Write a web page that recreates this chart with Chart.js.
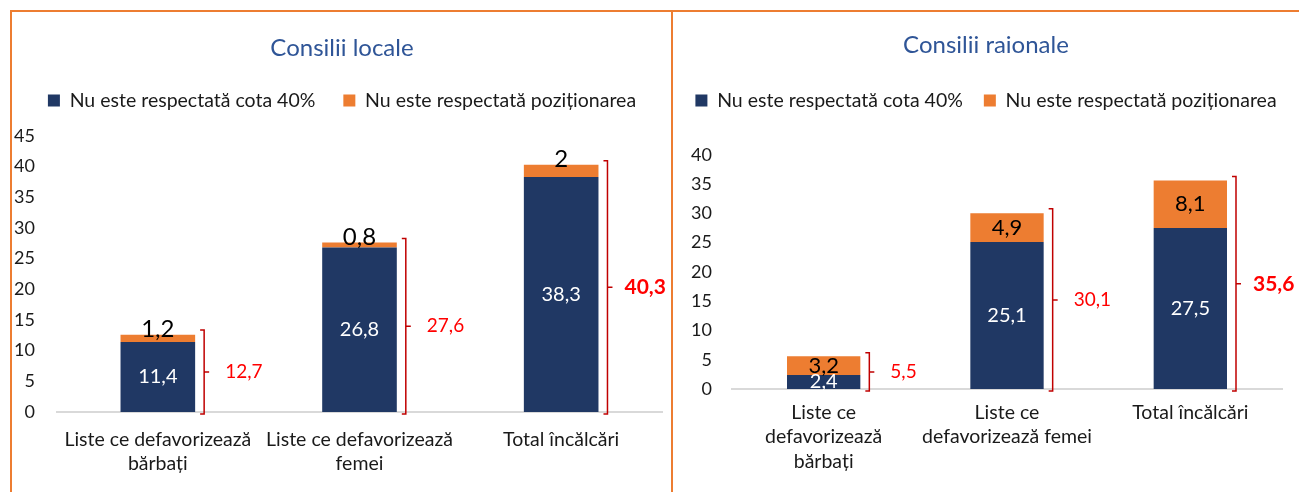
<!DOCTYPE html>
<html lang="ro">
<head>
<meta charset="utf-8">
<title>Consilii locale / Consilii raionale</title>
<script src="https://cdn.jsdelivr.net/npm/chart.js@4.4.1/dist/chart.umd.min.js"></script>
<style>
  body { margin: 0; width: 1299px; height: 492px; overflow: hidden; background: #fff; position: relative; font-family: Lato, sans-serif; }
  .frameTop { position: absolute; left: 10px; top: 10px; width: 1289px; height: 2px; background: #ED7D31; z-index: 2; }
  .frameLeft { position: absolute; left: 10px; top: 10px; width: 2px; height: 482px; background: #ED7D31; z-index: 2; }
  .frameMid { position: absolute; left: 671px; top: 10px; width: 2px; height: 482px; background: #ED7D31; z-index: 2; }
  canvas { position: absolute; top: 12px; }
  #chartLeft { left: 12px; }
  #chartRight { left: 673px; }
</style>
</head>
<body>
<div class="frameTop"></div>
<div class="frameLeft"></div>
<div class="frameMid"></div>
<canvas id="chartLeft" width="660" height="480"></canvas>
<canvas id="chartRight" width="626" height="480"></canvas>

<script>
// data start
const seriesNames = ['Nu este respectată cota 40%', 'Nu este respectată poziționarea'];

const localCategories = [['Liste ce defavorizează', 'bărbați'], ['Liste ce defavorizează', 'femei'], 'Total încălcări'];
const localQuota = [11.4, 26.8, 38.3];
const localPosition = [1.2, 0.8, 2];
const localTotals = [12.7, 27.6, 40.3];

const raionCategories = [['Liste ce', 'defavorizează', 'bărbați'], ['Liste ce', 'defavorizează femei'], 'Total încălcări'];
const raionQuota = [2.4, 25.1, 27.5];
const raionPosition = [3.2, 4.9, 8.1];
const raionTotals = [5.5, 30.1, 35.6];
// data close

const BLUE = '#203864';
const ORANGE = '#ED7D31';
const FONT = 'Lato';

function fmt(v) {
  return String(v).replace('.', ',');
}

// value labels + red brackets
function labelPlugin(totals, orangeOnTop, orangeSize) {
  return {
    id: 'barLabels',
    afterDatasetsDraw(chart) {
      const ctx = chart.ctx;
      const yScale = chart.scales.y;
      const zero = yScale.getPixelForValue(0);
      const blueBars = chart.getDatasetMeta(0).data;
      const orangeBars = chart.getDatasetMeta(1).data;
      const blueVals = chart.data.datasets[0].data;
      const orangeVals = chart.data.datasets[1].data;

      ctx.save();
      ctx.textBaseline = 'middle';
      blueBars.forEach((bar, i) => {
        ctx.textAlign = 'center';
        ctx.font = '20px ' + FONT;
        ctx.fillStyle = '#fff';
        ctx.fillText(fmt(blueVals[i]), bar.x, (bar.y + bar.base) / 2);

        const ob = orangeBars[i];
        ctx.font = orangeSize + 'px ' + FONT;
        ctx.fillStyle = '#000';
        const oy = orangeOnTop ? ob.y - 5 : (ob.y + ob.base) / 2;
        ctx.fillText(fmt(orangeVals[i]), ob.x, oy);

        // bracket
        const bx = bar.x + bar.width / 2 + 9;
        const top = yScale.getPixelForValue(totals[i]) - 4;
        const bottom = zero + 2;
        const mid = (top + bottom) / 2;
        ctx.strokeStyle = '#C00000';
        ctx.lineWidth = 1.5;
        ctx.beginPath();
        ctx.moveTo(bx - 4, top);
        ctx.lineTo(bx, top);
        ctx.lineTo(bx, bottom);
        ctx.lineTo(bx - 4, bottom);
        ctx.moveTo(bx, mid);
        ctx.lineTo(bx + 5, mid);
        ctx.stroke();

        const last = i === blueBars.length - 1;
        ctx.textAlign = 'left';
        ctx.font = last ? 'bold 21px ' + FONT : '19px ' + FONT;
        ctx.fillStyle = '#FF0000';
        ctx.fillText(fmt(totals[i]), bx + (last ? 17 : 21), mid);
      });
      ctx.restore();
    }
  };
}

// fixed legend height so the plot area lands in the right spot
function legendHeight(h) {
  return {
    id: 'legendHeight',
    beforeInit(chart) {
      const originalFit = chart.legend.fit;
      chart.legend.fit = function () {
        originalFit.bind(chart.legend)();
        this.height = h;
      };
    }
  };
}

function makeChart(id, cfg) {
  return new Chart(document.getElementById(id), {
    type: 'bar',
    data: {
      labels: cfg.categories,
      datasets: [
        { label: seriesNames[0], data: cfg.quota, backgroundColor: BLUE, barPercentage: cfg.barPct, categoryPercentage: 1 },
        { label: seriesNames[1], data: cfg.position, backgroundColor: ORANGE, barPercentage: cfg.barPct, categoryPercentage: 1 }
      ]
    },
    options: {
      responsive: false,
      animation: false,
      layout: { padding: 0 },
      plugins: {
        title: {
          display: true,
          text: cfg.title,
          color: '#2F5597',
          font: { family: FONT, size: 24, weight: 'normal', lineHeight: 1.2 },
          padding: { top: cfg.titleTop, bottom: cfg.titleBottom }
        },
        legend: {
          display: true,
          labels: {
            color: '#1a1a1a',
            boxWidth: 12,
            boxHeight: 12,
            padding: cfg.legendPad,
            font: { family: FONT, size: 19.5 }
          }
        },
        tooltip: { enabled: false }
      },
      scales: {
        x: {
          stacked: true,
          grid: { display: false, drawTicks: false },
          border: { display: true, color: '#D9D9D9', width: 2 },
          ticks: { color: '#1a1a1a', padding: cfg.xPad, font: { family: FONT, size: 19.5, lineHeight: 1.27 }, maxRotation: 0, autoSkip: false },
          afterFit: function (scale) { scale.height = cfg.xHeight; }
        },
        y: {
          stacked: true,
          min: 0,
          max: cfg.max,
          grid: { display: false, drawTicks: false },
          border: { display: false },
          ticks: { stepSize: 5, color: '#1a1a1a', padding: cfg.yPad, font: { family: FONT, size: 18 } },
          afterFit: function (scale) { scale.width = cfg.yWidth; }
        },
        // empty right axis, only keeps a margin after the plot
        yRight: {
          type: 'linear',
          position: 'right',
          grid: { display: false, drawTicks: false },
          border: { display: false },
          ticks: { display: false },
          afterFit: function (scale) { scale.width = cfg.padRight; }
        }
      }
    },
    plugins: [labelPlugin(cfg.totals, cfg.orangeOnTop, cfg.orangeSize), legendHeight(cfg.legendH)]
  });
}

// left chart start
makeChart('chartLeft', {
  title: 'Consilii locale',
  categories: localCategories,
  quota: localQuota,
  position: localPosition,
  totals: localTotals,
  max: 45,
  barPct: 0.37,
  padRight: 10,
  yWidth: 45,
  yPad: 22,
  xHeight: 80,
  xPad: 15,
  titleTop: 22,
  titleBottom: 0,
  legendPad: 28,
  legendH: 73,
  orangeOnTop: true,
  orangeSize: 24
});
// left chart close

// right chart start
makeChart('chartRight', {
  title: 'Consilii raionale',
  categories: raionCategories,
  quota: raionQuota,
  position: raionPosition,
  totals: raionTotals,
  max: 40,
  barPct: 0.4,
  padRight: 17,
  yWidth: 59,
  yPad: 20,
  xHeight: 103,
  xPad: 11,
  titleTop: 19,
  titleBottom: 10,
  legendPad: 21,
  legendH: 85,
  orangeOnTop: false,
  orangeSize: 22
});
// right chart close
</script>
</body>
</html>
